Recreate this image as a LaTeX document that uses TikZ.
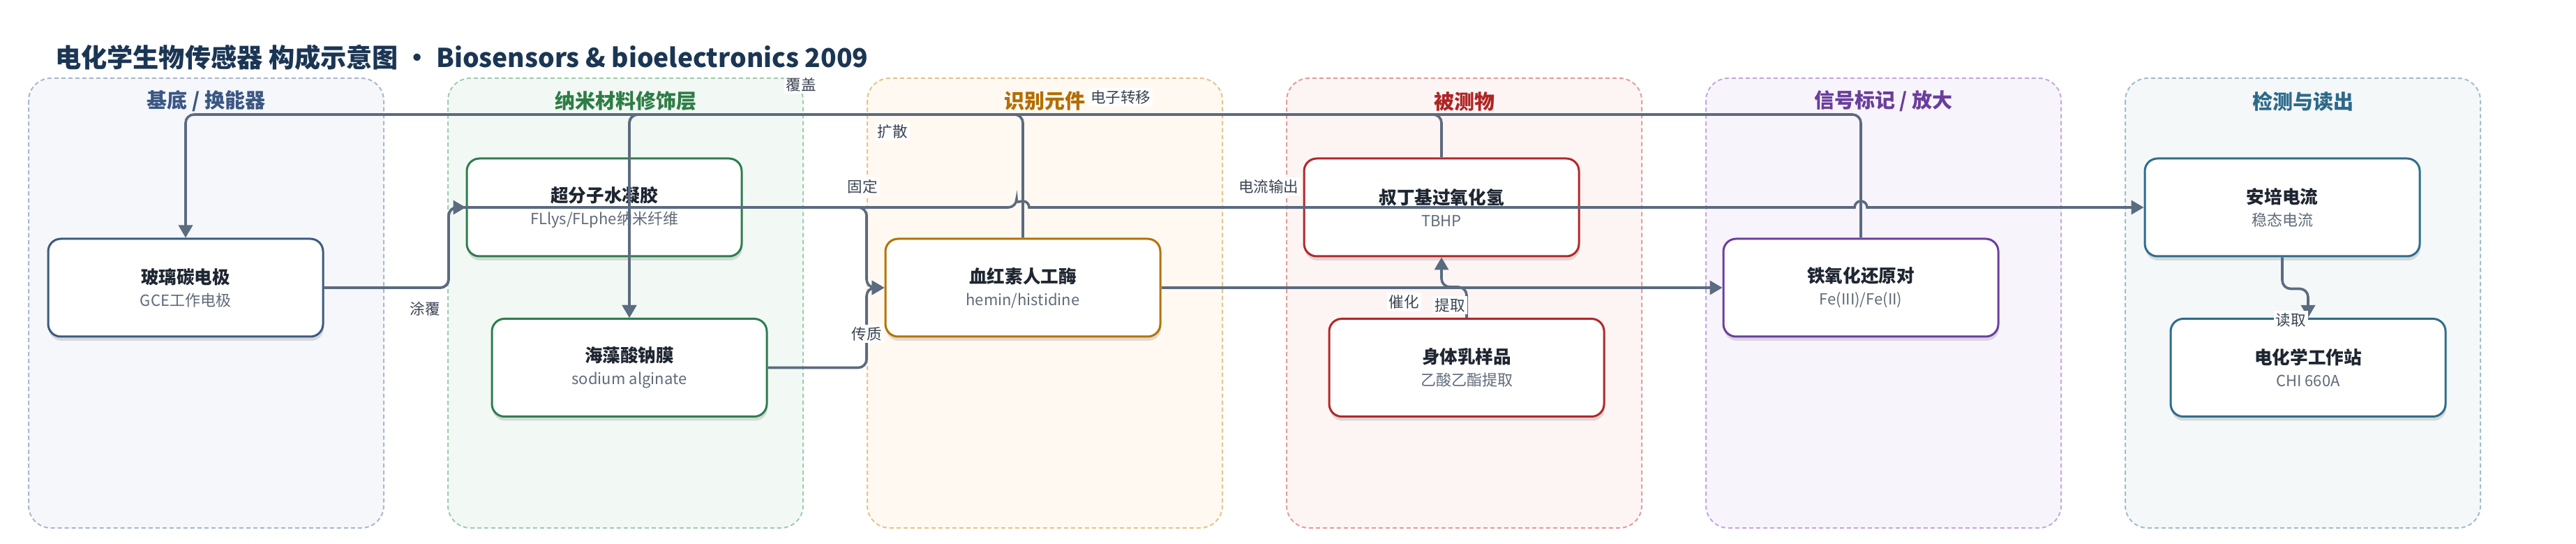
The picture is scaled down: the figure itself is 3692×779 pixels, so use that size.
\documentclass[tikz,border=0pt]{standalone}
\usepackage{fontspec}
\setmainfont{Noto Sans CJK SC}
\usepackage{xcolor}
\usetikzlibrary{arrows.meta,calc,shadows}

\definecolor{ink}{HTML}{1E2631}
\definecolor{subink}{HTML}{5F6B7A}
\definecolor{hdink}{HTML}{1B3654}
\definecolor{wire}{HTML}{5B6B80}
\definecolor{lblink}{HTML}{3A4452}
% lane colours: border, fill, heading, block border
\definecolor{bdA}{HTML}{A9B8CD}\definecolor{bgA}{HTML}{F5F7FB}\definecolor{txA}{HTML}{3B5784}\definecolor{ndA}{HTML}{3D5A80}
\definecolor{bdB}{HTML}{9FCDB0}\definecolor{bgB}{HTML}{F2F9F4}\definecolor{txB}{HTML}{2E7D46}\definecolor{ndB}{HTML}{2E7D4F}
\definecolor{bdC}{HTML}{E7C38A}\definecolor{bgC}{HTML}{FFF9F1}\definecolor{txC}{HTML}{B36D00}\definecolor{ndC}{HTML}{B57200}
\definecolor{bdD}{HTML}{E69C9C}\definecolor{bgD}{HTML}{FDF4F4}\definecolor{txD}{HTML}{B02424}\definecolor{ndD}{HTML}{B2282A}
\definecolor{bdE}{HTML}{C4A8DF}\definecolor{bgE}{HTML}{F8F4FC}\definecolor{txE}{HTML}{6A3E9C}\definecolor{ndE}{HTML}{6B3FA0}
\definecolor{bdF}{HTML}{9FBFCB}\definecolor{bgF}{HTML}{F4F8F9}\definecolor{txF}{HTML}{2D6A89}\definecolor{ndF}{HTML}{2F6D8C}

\newcommand{\blocktext}[2]{{\bfseries #1}\\{\fontsize{11}{14}\selectfont\color{subink}#2}}

\begin{document}
\begin{tikzpicture}[x=0.5pt, y=-0.5pt,
  lane/.style={line width=1pt, dash pattern=on 3pt off 2pt, rounded corners=16pt},
  lanehd/.style={font=\fontsize{14.5}{17}\selectfont\bfseries},
  blk/.style={draw=#1, line width=1.5pt, fill=white, rounded corners=9pt,
    minimum width=197pt, minimum height=70pt, align=center, text=ink,
    font=\fontsize{12.8}{16}\selectfont,
    drop shadow={shadow xshift=0.5pt, shadow yshift=-3pt, opacity=0.12, fill=black}},
  flow/.style={draw=wire, line width=1.8pt, rounded corners=6pt,
    -{Triangle[length=9pt,width=10pt]}},
  lbl/.style={fill=white, inner sep=1.5pt, text=lblink, font=\fontsize{10.75}{12}\selectfont}]

\fill[white] (0,0) rectangle (3692,779);
\useasboundingbox (0,0) rectangle (3692,779);

% Title
\node[anchor=west, text=hdink, font=\fontsize{18.6}{22}\selectfont\bfseries] (title) at (72,82)
  {电化学生物传感器 构成示意图 · Biosensors \& bioelectronics 2009};

% Lanes
\foreach \i/\ttl/\c in {0/{基底 / 换能器}/A, 1/纳米材料修饰层/B, 2/识别元件/C,
    3/被测物/D, 4/{信号标记 / 放大}/E, 5/检测与读出/F} {
  \pgfmathsetmacro{\lx}{41+601*\i}
  \draw[lane, draw=bd\c, fill=bg\c] (\lx,112) rectangle ++(509,644);
  \node[lanehd, text=tx\c] at (\lx+254.5,145) {\ttl};
}

% Blocks
\node[blk=ndA] (gce) at (266,412) {\blocktext{玻璃碳电极}{GCE工作电极}};
\node[blk=ndB] (hyd) at (866,297) {\blocktext{超分子水凝胶}{FLlys/FLphe纳米纤维}};
\node[blk=ndB] (alg) at (902,526.5) {\blocktext{海藻酸钠膜}{sodium alginate}};
\node[blk=ndC] (enz) at (1466,412) {\blocktext{血红素人工酶}{hemin/histidine}};
\node[blk=ndD] (tbhp) at (2066,297) {\blocktext{叔丁基过氧化氢}{TBHP}};
\node[blk=ndD] (samp) at (2102,526.5) {\blocktext{身体乳样品}{乙酸乙酯提取}};
\node[blk=ndE] (fe) at (2667,412) {\blocktext{铁氧化还原对}{Fe(III)/Fe(II)}};
\node[blk=ndF] (amp) at (3271,297) {\blocktext{安培电流}{稳态电流}};
\node[blk=ndF] (chi) at (3308,526.5) {\blocktext{电化学工作站}{CHI 660A}};

% Routing points
\coordinate (bus) at (0,164);
\coordinate (jA) at (643,297);
\coordinate (jB) at (1242,297);
\coordinate (jC) at (1242,412);

% Connectors
\draw[flow] (gce.east) -| (jA) -- (hyd.west);
\draw[flow] (gce.east) -| (jA) -- ($(enz.north |- jA)+(-9,0)$)
  [sharp corners] arc[start angle=180, end angle=360, radius=9]
  -- ($(fe.north |- jA)+(-9,0)$) arc[start angle=180, end angle=360, radius=9]
  -- (amp.west);
\draw[flow] (hyd.east) -- (jB) -- (jC) -- (enz.west);
\draw[flow] (alg.east) -| (jC) -- (enz.west);
\draw[flow] (enz.east) -- (fe.west);
\draw[flow] (samp.north) -- ++(0,-44) -| (tbhp.south);
\draw[flow] (amp.south) -- ++(0,45) -| (chi.north);
\draw[flow] (enz.north) -- (enz.north |- bus) -| (alg.north);
\draw[flow] (tbhp.north) -- (tbhp.north |- bus) -| (alg.north);
\draw[flow] (fe.north) -- (fe.north |- bus) -| (gce.north);

% Connector labels
\node[lbl] (l-tufu) at (609,442) {涂覆};
\node[lbl] (l-guding) at (1236,267) {固定};
\node[lbl] (l-chuanzhi) at (1242,478) {传质};
\node[lbl] (l-fugai) at (1148,121) {覆盖};
\node[lbl] (l-kuosan) at (1279,188) {扩散};
\node[lbl] (l-dianzi) at (1606,139) {电子转移};
\node[lbl] (l-dianliu) at (1818,267) {电流输出};
\node[lbl] (l-cuihua) at (2012,432) {催化};
\node[lbl] (l-tiqu) at (2078,437) {提取};
\node[lbl] (l-duqu) at (3283,458) {读取};

\end{tikzpicture}
\end{document}
